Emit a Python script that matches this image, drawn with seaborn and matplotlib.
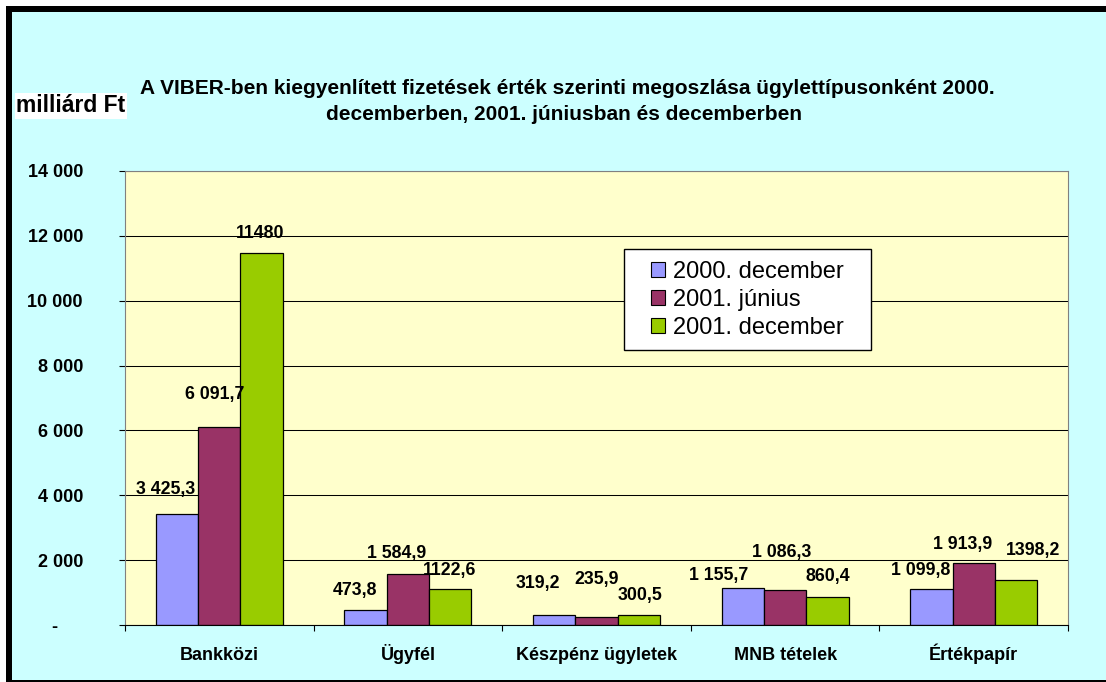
import matplotlib
matplotlib.use("Agg")
import matplotlib.pyplot as plt
import matplotlib.patches as mpatches
import seaborn as sns
import pandas as pd

# Data (milliard Ft)
categories = ["Bankközi", "Ügyfél", "Készpénz ügyletek", "MNB tételek", "Értékpapír"]
periods = ["2000. december", "2001. június", "2001. december"]
dec_2000 = [3425.3, 473.8, 319.2, 1155.7, 1099.8]
jun_2001 = [6091.7, 1584.9, 235.9, 1086.3, 1913.9]
dec_2001 = [11480, 1122.6, 300.5, 860.4, 1398.2]

# Data label texts as printed on the chart
labels_dec_2000 = ["3 425,3", "473,8", "319,2", "1 155,7", "1 099,8"]
labels_jun_2001 = ["6 091,7", "1 584,9", "235,9", "1 086,3", "1 913,9"]
labels_dec_2001 = ["11480", "1122,6", "300,5", "860,4", "1398,2"]

y_ticks = [0, 2000, 4000, 6000, 8000, 10000, 12000, 14000]
y_tick_labels = ["-     ", "2 000", "4 000", "6 000", "8 000", "10 000", "12 000", "14 000"]

title_1 = "A VIBER-ben kiegyenlített fizetések érték szerinti megoszlása ügylettípusonként 2000."
title_2 = "decemberben, 2001. júniusban és decemberben"
unit = "milliárd Ft"

# Styling
colors = ["#9999FF", "#993366", "#99CC00"]
# label offsets from the bar top, in pixels (dx, dy), per category and period
label_offsets = [
    [(-11.5, 24), (-5, 33), (-1, 19)],
    [(-11, 19), (-11, 20), (-1, 18)],
    [(-16.5, 31), (0, 38), (1, 20)],
    [(-24.5, 12.5), (-3, 37), (0, 20.5)],
    [(-11, 19), (-11, 18.5), (17, 29.5)],
]

plt.rcParams["font.family"] = ["Liberation Sans", "DejaVu Sans"]

df = pd.DataFrame({
    "Ügylettípus": categories * 3,
    "Időszak": [p for p in periods for _ in categories],
    "Érték": dec_2000 + jun_2001 + dec_2001,
})
label_texts = [labels_dec_2000, labels_jun_2001, labels_dec_2001]

fig = plt.figure(figsize=(11.06, 6.82), dpi=100, facecolor="white")

# Frame: thick black border top/left, thin at bottom, cyan background
fig.patches.append(mpatches.Rectangle((6 / 1106, 0), 1, 676 / 682, transform=fig.transFigure,
                                      facecolor="black", edgecolor="none", zorder=-3))
fig.patches.append(mpatches.Rectangle((12 / 1106, 2 / 682), 1, 668 / 682, transform=fig.transFigure,
                                      facecolor="#CCFFFF", edgecolor="none", zorder=-2))

ax = fig.add_axes([125 / 1106, 57 / 682, 943 / 1106, 454 / 682])
ax.set_facecolor("#FFFFCC")

sns.barplot(data=df, x="Ügylettípus", y="Érték", hue="Időszak", order=categories,
            hue_order=periods, palette=colors, saturation=1, width=0.673,
            edgecolor="black", linewidth=0.9, errorbar=None, legend=False, ax=ax)

# Data labels
bars = sorted(ax.patches, key=lambda b: b.get_x())
for k, bar in enumerate(bars):
    j, i = k // 3, k % 3
    dx, dy = label_offsets[j][i]
    ax.annotate(label_texts[i][j], xy=(bar.get_x() + bar.get_width() / 2, bar.get_height()),
                xytext=(dx, dy), textcoords="offset pixels", ha="center", va="center",
                fontsize=12.8, fontweight="bold", zorder=6)

# Axes
ax.set_ylim(0, 14000)
ax.set_yticks(y_ticks)
ax.set_yticklabels(y_tick_labels, fontsize=13, fontweight="bold")
ax.tick_params(axis="y", length=4.3, width=0.8, pad=26, colors="black")
ax.set_xlim(-0.5, 4.5)
ax.set_xticks(range(len(categories)))
ax.set_xticklabels(categories, fontsize=13, fontweight="bold", va="baseline")
ax.set_xticks([k - 0.5 for k in range(len(categories) + 1)], minor=True)
ax.tick_params(axis="x", which="major", length=0, pad=25)
ax.tick_params(axis="x", which="minor", length=4.3, width=0.8, direction="out")
ax.set_xlabel("")
ax.set_ylabel("")

ax.set_axisbelow(True)
ax.yaxis.grid(True, color="black", linewidth=0.75)
ax.xaxis.grid(False)
for side in ["left", "top", "right"]:
    ax.spines[side].set_color("#808080")
ax.spines["bottom"].set_color("black")

# Legend with a plain box
ax.add_patch(mpatches.Rectangle((0.5292, 0.6057), 0.2619, 0.2225, transform=ax.transAxes,
                                facecolor="white", edgecolor="black", linewidth=1, zorder=4))
handles = [mpatches.Patch(facecolor=c, edgecolor="black", linewidth=0.8) for c in colors]
leg = ax.legend(handles, periods, loc="center left", bbox_to_anchor=(0.5578, 0.7159),
                frameon=False, borderpad=0, borderaxespad=0, handlelength=0.6,
                handleheight=0.6, handletextpad=0.34, labelspacing=0.24, fontsize=17)
leg.set_zorder(5)

# Titles
fig.text(567 / 1106, 1 - 88 / 682, title_1, ha="center", va="center", fontsize=15, fontweight="bold")
fig.text(564 / 1106, 1 - 115 / 682, title_2, ha="center", va="center", fontsize=15, fontweight="bold")
fig.text(16 / 1106, 1 - 106 / 682, unit, ha="left", va="center", fontsize=16.5, fontweight="bold",
         bbox=dict(facecolor="white", edgecolor="none", pad=1))

fig.savefig("out.png", dpi=100)
